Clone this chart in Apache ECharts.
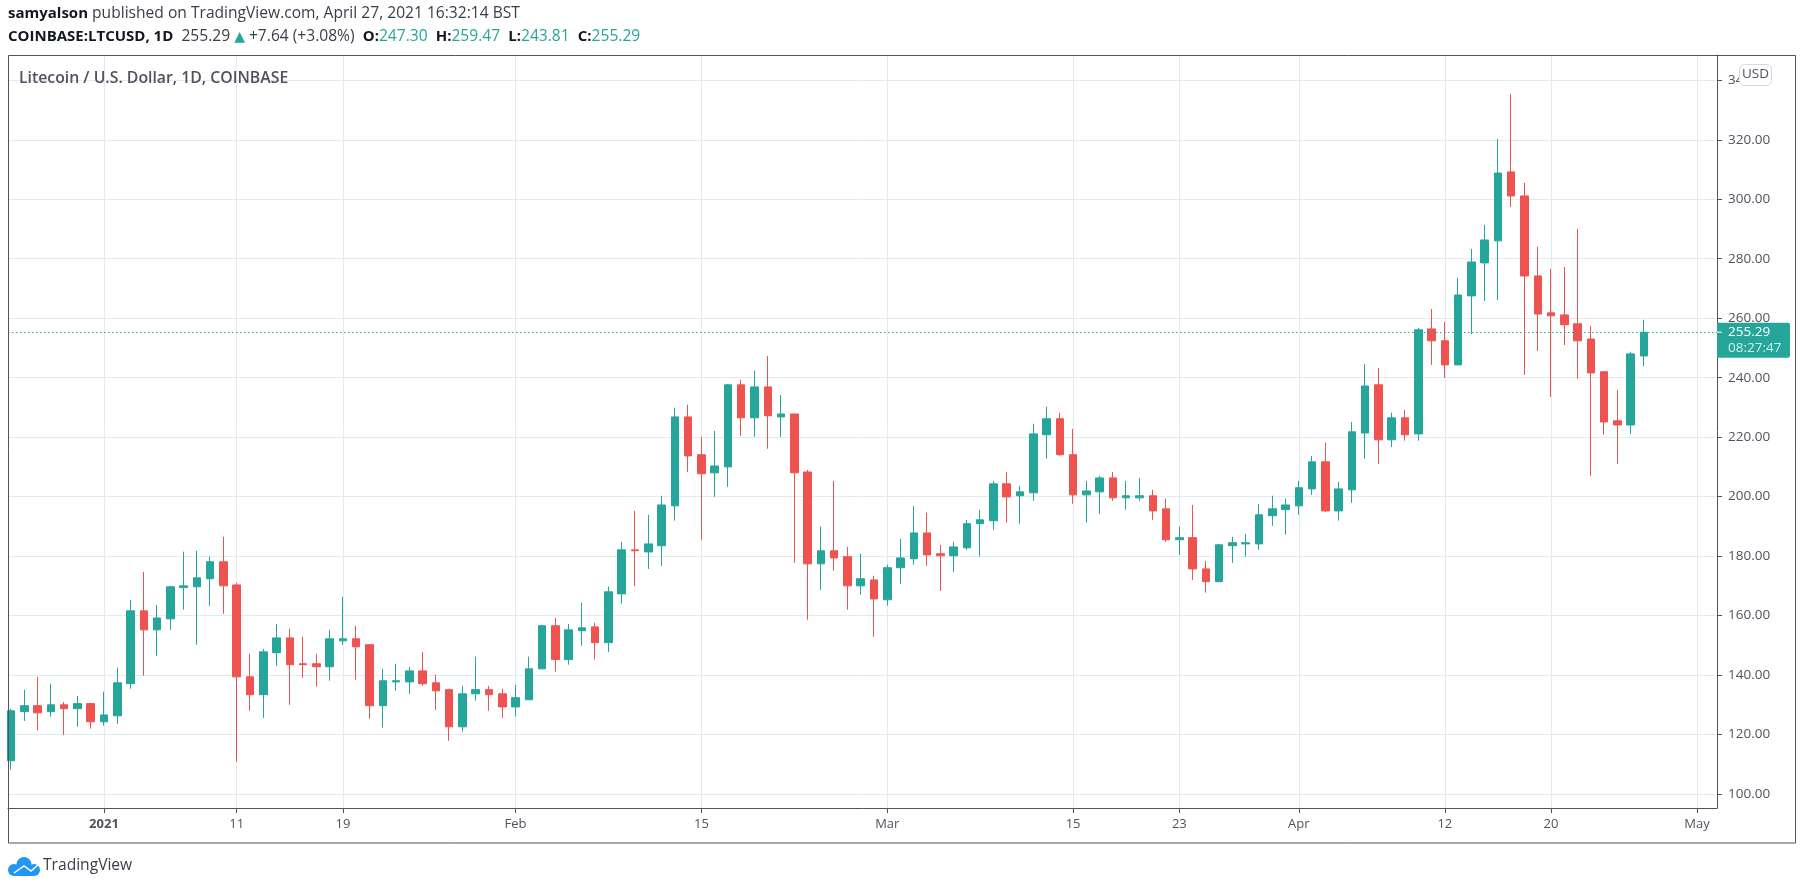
<!DOCTYPE html>
<html lang="en">
<head>
  <meta charset="UTF-8">
  <title>LTCUSD</title>
  <script src="https://cdn.jsdelivr.net/npm/echarts@6/dist/echarts.min.js"></script>
  <style>
    html, body { margin: 0; padding: 0; background: #fff; }
  </style>
</head>
<body>
  <div id="main" style="width: 1805px;height:890px;"></div>
<script type="text/javascript">
// days counted from 2021-01-01, one candle a day from Dec 25 to Apr 27
var firstDay = -7;
var opens = [
  111.2, 127.7, 129.7, 127.7, 130.0, 128.7, 130.4, 124.3, 126.3, 137.1, 161.6, 155.2, 158.9, 169.4, 169.7, 172.4,
  178.1, 170.3, 139.4, 133.4, 147.5, 152.5, 143.8, 143.8, 142.8, 151.5, 152.2, 150.2, 129.7, 137.7, 137.7, 141.4,
  137.4, 135.1, 122.6, 133.7, 135.1, 133.7, 129.3, 131.7, 142.1, 156.6, 145.2, 154.9, 156.2, 150.9, 167.3, 182.1,
  181.4, 183.5, 196.9, 226.8, 214.1, 208.0, 210.0, 237.6, 226.5, 236.9, 226.8, 227.8, 208.3, 177.4, 181.8, 179.8,
  170.0, 172.0, 165.3, 176.1, 179.1, 187.8, 180.8, 180.1, 182.8, 190.9, 191.9, 204.3, 200.3, 201.3, 220.8, 226.2,
  214.1, 200.6, 201.6, 206.3, 199.6, 199.6, 200.3, 195.9, 185.5, 186.2, 175.7, 171.4, 183.5, 184.1, 184.1, 193.6,
  195.6, 196.9, 202.6, 211.7, 195.2, 202.3, 221.4, 237.6, 219.1, 226.5, 221.1, 256.4, 252.4, 244.3, 267.5, 278.6,
  286.0, 309.2, 301.1, 274.2, 261.8, 261.1, 258.1, 253.0, 242.0, 225.5, 224.1, 247.3
];
var closes = [
  128.0, 129.7, 127.3, 130.0, 128.7, 130.4, 124.3, 126.6, 137.4, 161.6, 155.2, 159.2, 169.7, 170.0, 172.7, 178.1,
  170.0, 139.4, 133.4, 147.8, 152.5, 143.5, 143.5, 142.8, 152.2, 152.2, 149.5, 129.7, 138.1, 138.1, 141.4, 137.1,
  134.7, 122.6, 133.7, 135.1, 133.4, 129.3, 132.4, 142.1, 156.6, 145.2, 155.2, 155.9, 150.9, 168.0, 182.1, 181.8,
  184.1, 197.2, 226.8, 213.7, 207.7, 210.3, 237.6, 226.5, 236.9, 227.2, 227.8, 208.0, 177.4, 181.8, 179.4, 170.0,
  172.4, 165.6, 176.1, 179.4, 187.8, 180.4, 180.1, 183.1, 190.9, 192.2, 204.3, 199.9, 201.6, 221.1, 226.2, 214.1,
  200.6, 201.9, 206.3, 199.6, 200.3, 200.3, 195.2, 185.5, 186.2, 175.7, 171.4, 183.8, 184.5, 184.5, 193.9, 195.9,
  197.2, 203.0, 211.7, 195.2, 202.6, 221.8, 237.2, 219.1, 226.5, 220.8, 256.1, 252.4, 244.3, 267.8, 278.9, 286.3,
  308.8, 301.1, 274.2, 261.4, 260.8, 257.8, 252.4, 241.6, 225.1, 224.1, 248.0, 255.29
];
var lows = [
  108.2, 124.6, 121.3, 126.0, 119.9, 122.6, 122.0, 123.0, 123.6, 135.4, 139.8, 146.5, 155.2, 162.0, 150.2, 163.3,
  160.6, 110.9, 128.0, 125.6, 143.1, 130.0, 139.1, 136.1, 138.1, 150.2, 138.4, 125.3, 122.3, 134.7, 133.7, 136.4,
  128.3, 117.9, 121.0, 131.4, 128.0, 125.6, 126.0, 131.7, 142.1, 141.1, 143.5, 149.9, 145.2, 147.8, 164.0, 170.0,
  175.7, 176.7, 191.9, 208.3, 185.5, 199.9, 203.3, 220.4, 220.1, 216.1, 220.1, 177.7, 158.6, 168.7, 175.1, 162.0,
  167.0, 152.9, 163.3, 170.7, 177.1, 176.7, 168.3, 174.7, 182.1, 179.8, 188.8, 191.2, 190.9, 198.6, 212.7, 213.7,
  197.6, 191.2, 194.2, 198.6, 195.6, 198.6, 192.2, 184.8, 180.4, 172.0, 167.7, 171.4, 177.7, 179.8, 182.1, 190.2,
  187.2, 193.9, 200.6, 194.9, 191.9, 197.9, 212.7, 211.0, 216.7, 218.8, 218.8, 244.3, 239.9, 244.3, 254.7, 265.8,
  266.1, 297.4, 240.9, 249.0, 233.5, 251.0, 239.6, 207.0, 220.8, 211.0, 221.1, 243.81
];
var highs = [
  128.7, 135.1, 139.4, 137.1, 131.0, 133.0, 130.7, 134.4, 142.5, 165.3, 174.7, 163.6, 170.0, 181.5, 181.8, 179.8,
  186.5, 171.0, 147.2, 148.8, 157.2, 155.6, 152.9, 147.2, 155.2, 166.3, 156.6, 150.5, 142.1, 143.8, 142.8, 147.8,
  140.1, 135.4, 136.4, 146.2, 136.4, 135.4, 136.7, 146.2, 156.9, 159.3, 157.2, 164.3, 157.6, 169.7, 184.8, 195.2,
  193.9, 200.3, 229.9, 230.9, 220.1, 222.1, 237.9, 239.3, 242.3, 247.3, 234.2, 227.8, 209.0, 189.9, 205.3, 183.1,
  180.8, 173.4, 177.1, 185.8, 196.9, 194.6, 183.8, 184.8, 192.2, 195.6, 205.3, 208.3, 203.6, 224.5, 230.2, 228.2,
  222.8, 205.3, 207.0, 208.3, 205.3, 206.3, 202.3, 199.3, 189.9, 197.2, 178.4, 184.1, 186.5, 187.5, 197.6, 200.3,
  199.3, 205.3, 213.7, 218.1, 205.0, 225.1, 244.6, 243.3, 228.2, 229.2, 256.7, 263.1, 258.8, 273.5, 283.3, 291.4,
  320.3, 335.4, 305.5, 284.0, 276.6, 277.2, 290.0, 257.4, 242.0, 235.9, 248.7, 259.47
];
var tickDays = [0, 10, 18, 31, 45, 59, 73, 81, 90, 101, 109, 120];
var tickLabels = ['2021', '11', '19', 'Feb', '15', 'Mar', '15', '23', 'Apr', '12', '20', 'May'];
var priceTicks = [100, 120, 140, 160, 180, 200, 220, 240, 260, 280, 300, 320, 340];
var lastPrice = 255.29;

var UP = '#26a69a', DOWN = '#ef5350', GRID = '#e1ecf2', FRAME = '#50535e';
var FONT = '"Open Sans", sans-serif';

var candles = closes.map(function (c, i) {
  return [firstDay + i, opens[i], c, lows[i], highs[i]];
});

var app = echarts.init(document.getElementById('main'));

var option = {
  animation: false,
  backgroundColor: '#fff',
  textStyle: { fontFamily: FONT },
  title: [
    {
      left: 8, top: 6, padding: 0,
      text: '{b|samyalson} published on TradingView.com, April 27, 2021 16:32:14 BST',
      textStyle: {
        fontFamily: FONT, fontSize: 15.6, fontWeight: 'normal', color: '#3a3e4a',
        rich: { b: { fontFamily: FONT, fontSize: 15, fontWeight: 'bold', color: '#131722' } }
      }
    },
    {
      left: 8, top: 29, padding: 0,
      text: '{b|COINBASE:LTCUSD, 1D}  255.29 {t|▲} +7.64 (+3.08%)  {b|O:}{u|247.30}  {b|H:}{u|259.47}  {b|L:}{u|243.81}  {b|C:}{u|255.29}',
      textStyle: {
        fontFamily: FONT, fontSize: 15.6, fontWeight: 'normal', color: '#3a3e4a',
        rich: {
          b: { fontFamily: FONT, fontSize: 15, fontWeight: 'bold', color: '#131722' },
          u: { fontFamily: FONT, fontSize: 15.6, color: UP },
          t: { fontFamily: 'DejaVu Sans', fontSize: 14, color: UP }
        }
      }
    },
    {
      left: 19, top: 70, padding: 0,
      text: 'Litecoin / U.S. Dollar, 1D, COINBASE',
      textStyle: { fontFamily: FONT, fontSize: 15.8, fontWeight: 600, color: '#50535e' }
    },
    {
      left: 43, top: 858, padding: 0,
      text: 'TradingView',
      textStyle: { fontFamily: FONT, fontSize: 15.6, fontWeight: 'normal', color: '#3a3e4a' }
    }
  ],
  grid: { left: 8, right: 88, top: 55, bottom: 82, show: false },
  xAxis: {
    type: 'value',
    min: -7.23,
    max: 121.5,
    axisLine: { show: true, onZero: false, lineStyle: { color: FRAME, width: 1 } },
    axisTick: { show: true, length: 5, lineStyle: { color: FRAME }, customValues: tickDays },
    axisLabel: {
      customValues: tickDays,
      margin: 10,
      fontFamily: FONT,
      fontSize: 13,
      color: '#50535e',
      formatter: function (v) {
        var s = tickLabels[tickDays.indexOf(v)];
        return s === '2021' ? '{b|' + s + '}' : s;
      },
      rich: { b: { fontFamily: FONT, fontSize: 13, fontWeight: 'bold', color: '#50535e' } }
    },
    splitLine: { show: true, lineStyle: { color: GRID, width: 1 } }
  },
  yAxis: {
    type: 'value',
    position: 'right',
    min: 95.3,
    max: 348.5,
    axisLine: { show: true, onZero: false, lineStyle: { color: FRAME, width: 1 } },
    axisTick: { show: true, length: 5, lineStyle: { color: FRAME }, customValues: priceTicks },
    axisLabel: {
      customValues: priceTicks,
      margin: 11,
      fontFamily: FONT,
      fontSize: 13.5,
      color: '#50535e',
      formatter: function (v) { return v.toFixed(2); }
    },
    splitLine: { show: true, lineStyle: { color: GRID, width: 1 } }
  },
  series: [
    {
      type: 'candlestick',
      data: candles,
      barWidth: 8,
      itemStyle: {
        color: UP,
        color0: DOWN,
        borderColor: UP,
        borderColor0: DOWN,
        borderColorDoji: DOWN,
        borderWidth: 1
      },
      markLine: {
        silent: true,
        symbol: 'none',
        label: { show: false },
        lineStyle: { color: UP, type: [1.5, 2.5], width: 1.2 },
        data: [{ yAxis: lastPrice }]
      }
    }
  ]
};

app.setOption(option);

// price tag, USD button, outer frame and logo sit on top of the axes
var tagY = app.convertToPixel({ yAxisIndex: 0 }, lastPrice);
app.setOption({
  graphic: [
    {
      type: 'rect', z: 50, silent: true,
      shape: { x: 8.5, y: 55.5, width: 1787, height: 787.5 },
      style: { fill: 'none', stroke: FRAME, lineWidth: 1 }
    },
    {
      type: 'rect', z: 60, silent: true,
      shape: { x: 1717, y: tagY - 9.5, width: 73, height: 35, r: [0, 2, 2, 0] },
      style: { fill: UP }
    },
    {
      type: 'line', z: 61, silent: true,
      shape: { x1: 1717, y1: tagY, x2: 1722, y2: tagY },
      style: { stroke: '#fff', lineWidth: 1 }
    },
    {
      type: 'text', z: 61, silent: true, x: 1728, y: tagY,
      style: { text: lastPrice.toFixed(2), fill: '#fff', font: '13.5px ' + FONT, verticalAlign: 'middle' }
    },
    {
      type: 'text', z: 61, silent: true, x: 1728, y: tagY + 16,
      style: { text: '08:27:47', fill: '#c9f0ea', font: '13.5px ' + FONT, verticalAlign: 'middle' }
    },
    {
      type: 'rect', z: 60, silent: true,
      shape: { x: 1739.5, y: 64.5, width: 32, height: 21, r: 5 },
      style: { fill: '#fff', stroke: '#d6d8de', lineWidth: 1 }
    },
    {
      type: 'text', z: 61, silent: true, x: 1755.5, y: 74.5,
      style: { text: 'USD', fill: '#50535e', font: '13.5px ' + FONT, align: 'center', verticalAlign: 'middle' }
    },
    // cloud logo
    {
      type: 'circle', z: 60, silent: true,
      shape: { cx: 14, cy: 870, r: 6 },
      style: { fill: '#2196f3' }
    },
    {
      type: 'circle', z: 60, silent: true,
      shape: { cx: 24, cy: 864.5, r: 7.5 },
      style: { fill: '#2196f3' }
    },
    {
      type: 'circle', z: 60, silent: true,
      shape: { cx: 34, cy: 870, r: 6 },
      style: { fill: '#2196f3' }
    },
    {
      type: 'rect', z: 60, silent: true,
      shape: { x: 14, y: 866, width: 20, height: 10 },
      style: { fill: '#2196f3' }
    },
    {
      type: 'polyline', z: 61, silent: true,
      shape: { points: [[14, 873], [24, 866], [31, 871], [38, 865]] },
      style: { fill: 'none', stroke: '#fff', lineWidth: 1.5 }
    }
  ]
});
</script>
</body>
</html>
